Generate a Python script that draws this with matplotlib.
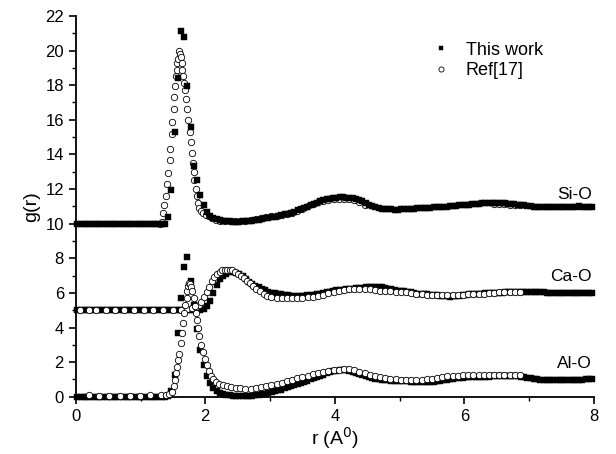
import numpy as np
import matplotlib
matplotlib.use("Agg")
import matplotlib.pyplot as plt
from matplotlib.ticker import MultipleLocator

plt.rcParams['font.family'] = ['Liberation Sans', 'DejaVu Sans']

#### THIS WORK : g(r) on a 0.05 A grid ####
r_work = np.linspace(0.025, 7.975, 160)

sio_work = [0.0] * 28 + [
    0.39, 1.93, 5.29, 8.41, 11.1, 10.8, 7.95, 5.56, 3.32, 2.5,
    1.64, 1.06, 0.69, 0.46, 0.35, 0.28, 0.22, 0.18, 0.15, 0.13,
    0.12, 0.12, 0.12, 0.13, 0.14, 0.15, 0.17, 0.19, 0.22, 0.26,
    0.3, 0.33, 0.36, 0.4, 0.44, 0.48, 0.53, 0.58, 0.63, 0.69,
    0.76, 0.83, 0.91, 0.99, 1.07, 1.15, 1.22, 1.29, 1.35, 1.4,
    1.44, 1.48, 1.5, 1.52, 1.52, 1.51, 1.49, 1.46, 1.42, 1.36,
    1.28, 1.18, 1.08, 1.0, 0.94, 0.9, 0.87, 0.85, 0.83, 0.82,
    0.81, 0.81, 0.82, 0.83, 0.84, 0.85, 0.87, 0.88, 0.9, 0.91,
    0.92, 0.93, 0.95, 0.96, 0.97, 0.98, 0.99, 1.0, 1.02, 1.03,
    1.05, 1.07, 1.08, 1.1, 1.12, 1.14, 1.16, 1.18, 1.19, 1.2,
    1.21, 1.21, 1.2, 1.19, 1.17, 1.15, 1.13, 1.11, 1.09, 1.07,
    1.05, 1.03, 1.01, 0.99, 0.98, 0.98, 0.97, 0.97, 0.96, 0.96,
    0.96, 0.97, 0.97, 0.98, 0.98, 0.99, 0.99, 1.0, 0.99, 0.98,
    0.98, 0.98]

cao_work = [0.0] * 37 + [
    0.01, 0.03, 0.06, 0.25, 0.54, 1.0, 1.45, 1.8, 2.0, 2.12,
    2.18, 2.2, 2.16, 2.08, 1.95, 1.8, 1.65, 1.53, 1.42, 1.32,
    1.23, 1.15, 1.08, 1.02, 0.98, 0.95, 0.92, 0.89, 0.86, 0.84,
    0.83, 0.83, 0.84, 0.85, 0.86, 0.87, 0.89, 0.92, 0.96, 1.0,
    1.04, 1.08, 1.11, 1.14, 1.17, 1.19, 1.21, 1.23, 1.25, 1.27,
    1.29, 1.31, 1.33, 1.35, 1.37, 1.37, 1.35, 1.32, 1.28, 1.24,
    1.2, 1.16, 1.13, 1.11, 1.1, 1.07, 1.03, 0.99, 0.96, 0.94,
    0.93, 0.92, 0.9, 0.88, 0.86, 0.84, 0.82, 0.8, 0.79, 0.8,
    0.82, 0.85, 0.88, 0.9, 0.92, 0.93, 0.94, 0.95, 0.96, 0.97,
    0.98, 0.99, 1.0, 1.01, 1.02, 1.03, 1.04, 1.05, 1.06, 1.07,
    1.08, 1.08, 1.08, 1.07, 1.06, 1.05, 1.04, 1.03, 1.02, 1.01,
    1.0, 1.0, 0.99, 0.99, 0.99, 1.0, 1.0, 1.0, 0.99, 0.99,
    0.98, 0.98, 0.99]

alo_work = [0.0] * 28 + [
    0.05, 0.35, 1.26, 3.7, 5.7, 7.5, 8.1, 6.7, 5.3, 3.9,
    2.7, 1.85, 1.2, 0.77, 0.5, 0.32, 0.2, 0.14, 0.1, 0.08,
    0.06, 0.05, 0.05, 0.05, 0.05, 0.06, 0.07, 0.09, 0.11, 0.14,
    0.18, 0.22, 0.27, 0.32, 0.37, 0.42, 0.48, 0.54, 0.6, 0.66,
    0.72, 0.79, 0.86, 0.93, 1.0, 1.07, 1.14, 1.21, 1.28, 1.35,
    1.42, 1.47, 1.51, 1.53, 1.54, 1.52, 1.48, 1.43, 1.37, 1.31,
    1.25, 1.18, 1.12, 1.07, 1.03, 1.0, 0.98, 0.96, 0.95, 0.94,
    0.93, 0.92, 0.91, 0.9, 0.89, 0.88, 0.87, 0.86, 0.85, 0.84,
    0.84, 0.85, 0.87, 0.9, 0.93, 0.96, 0.99, 1.02, 1.04, 1.06,
    1.08, 1.1, 1.12, 1.13, 1.14, 1.15, 1.16, 1.16, 1.17, 1.17,
    1.18, 1.18, 1.19, 1.19, 1.2, 1.2, 1.2, 1.19, 1.18, 1.16,
    1.14, 1.11, 1.08, 1.05, 1.02, 0.99, 0.97, 0.96, 0.95, 0.95,
    0.95, 0.96, 0.96, 0.97, 0.97, 0.98, 0.98, 0.99, 0.99, 1.0,
    1.0, 1.0]

sio_ref_r = [1.30, 1.33, 1.35, 1.37, 1.39, 1.41, 1.43, 1.45, 1.46, 1.48,
             1.49, 1.51, 1.52, 1.53, 1.55, 1.56, 1.57, 1.58, 1.60, 1.61,
             1.62, 1.635, 1.645, 1.66, 1.67, 1.685, 1.70, 1.72, 1.74, 1.76,
             1.775, 1.79, 1.805, 1.82, 1.83, 1.85, 1.87, 1.89, 1.91, 1.94,
             1.97, 2.01, 2.05, 2.10, 2.16, 2.22, 2.30, 2.38, 2.46, 2.54,
             2.62, 2.70, 2.78, 2.86, 2.94, 3.02, 3.10, 3.18, 3.26, 3.34,
             3.42, 3.50, 3.58, 3.66, 3.74, 3.82, 3.90, 3.98, 4.06, 4.14,
             4.22, 4.30, 4.38, 4.46, 6.46, 6.54, 6.62, 6.70, 6.78, 6.86]
sio_ref_g = [0.0, 0.1, 0.6, 1.1, 1.6, 2.3, 2.9, 3.7, 4.3, 5.2,
             5.9, 6.6, 7.3, 7.95, 8.5, 8.9, 9.3, 9.5, 9.95, 9.8,
             9.6, 9.3, 8.9, 8.5, 8.15, 7.7, 7.2, 6.6, 6.0, 5.3,
             4.7, 4.1, 3.5, 3.0, 2.55, 2.0, 1.6, 1.2, 0.9, 0.75,
             0.62, 0.5, 0.43, 0.32, 0.23, 0.18, 0.15, 0.14, 0.14, 0.15,
             0.18, 0.2, 0.25, 0.3, 0.37, 0.42, 0.47, 0.5, 0.55, 0.6,
             0.72, 0.85, 1.0, 1.15, 1.25, 1.32, 1.38, 1.4, 1.42, 1.42,
             1.4, 1.35, 1.25, 1.1, 1.15, 1.14, 1.12, 1.1, 1.08, 1.07]

cao_ref_r = [0.07, 0.2, 0.32, 0.47, 0.6, 0.75, 0.9, 1.05, 1.2, 1.35,
             1.5, 1.62, 1.72, 1.80, 1.86, 1.90, 1.94, 1.98, 2.02, 2.06,
             2.10, 2.14, 2.18, 2.22, 2.26, 2.30, 2.34, 2.38, 2.42, 2.46,
             2.50, 2.55, 2.60, 2.64, 2.69, 2.74, 2.79, 2.84, 2.90, 2.95,
             3.02, 3.10, 3.18, 3.26, 3.34, 3.42, 3.50, 3.58, 3.66, 3.74,
             3.82, 3.90, 3.98, 4.06, 4.14, 4.22, 4.30, 4.38, 4.46, 4.54,
             4.62, 4.70, 4.78, 4.86, 4.94, 5.02, 5.10, 5.18, 5.26, 5.34,
             5.42, 5.50, 5.58, 5.66, 5.74, 5.82, 5.90, 5.98, 6.06, 6.14,
             6.22, 6.30, 6.38, 6.46, 6.54, 6.62, 6.70, 6.78, 6.86]
cao_ref_g = [0.0, 0.01, 0.0, 0.0, 0.01, 0.0, 0.0, 0.01, 0.0, 0.0,
             0.01, 0.02, 0.05, 0.1, 0.2, 0.33, 0.5, 0.78, 1.08, 1.37,
             1.66, 1.9, 2.1, 2.22, 2.3, 2.34, 2.35, 2.34, 2.3, 2.22,
             2.12, 2.0, 1.85, 1.7, 1.55, 1.4, 1.25, 1.1, 0.95, 0.82,
             0.74, 0.7, 0.68, 0.68, 0.68, 0.7, 0.72, 0.75, 0.78, 0.82,
             0.9, 0.98, 1.06, 1.12, 1.18, 1.22, 1.23, 1.22, 1.22, 1.2,
             1.16, 1.13, 1.11, 1.09, 1.08, 1.06, 1.03, 1.0, 0.96, 0.92,
             0.89, 0.88, 0.88, 0.89, 0.9, 0.9, 0.9, 0.9, 0.91, 0.92,
             0.94, 0.96, 0.98, 1.0, 1.03, 1.05, 1.07, 1.08, 1.08]

alo_ref_r = [0.21, 0.36, 0.52, 0.68, 0.84, 0.99, 1.15, 1.31, 1.40, 1.44,
             1.48, 1.51, 1.53, 1.55, 1.57, 1.585, 1.60, 1.62, 1.64, 1.655,
             1.67, 1.69, 1.71, 1.725, 1.74, 1.755, 1.77, 1.785, 1.80, 1.82,
             1.84, 1.86, 1.875, 1.89, 1.91, 1.94, 1.97, 2.0, 2.03, 2.06,
             2.09, 2.12, 2.16, 2.21, 2.27, 2.33, 2.40, 2.47, 2.54, 2.62,
             2.70, 2.78, 2.86, 2.94, 3.02, 3.10, 3.18, 3.26, 3.34, 3.42,
             3.50, 3.58, 3.66, 3.74, 3.82, 3.90, 3.98, 4.06, 4.14, 4.22,
             4.30, 4.38, 4.46, 4.54, 4.62, 4.70, 4.78, 4.86, 4.94, 5.02,
             5.10, 5.18, 5.26, 5.34, 5.42, 5.50, 5.58, 5.66, 5.74, 5.82,
             5.90, 5.98, 6.06, 6.14, 6.22, 6.30, 6.38, 6.46, 6.54, 6.62,
             6.70, 6.78, 6.86]
alo_ref_g = [0.08, 0.06, 0.07, 0.05, 0.06, 0.05, 0.09, 0.08, 0.08, 0.15,
             0.29, 0.6, 0.97, 1.35, 1.74, 2.1, 2.5, 3.1, 3.67, 4.25,
             4.83, 5.3, 5.7, 6.1, 6.4, 6.55, 6.5, 6.35, 6.1, 5.7,
             5.25, 4.85, 4.44, 4.0, 3.5, 3.0, 2.6, 2.2, 1.85, 1.5,
             1.22, 1.0, 0.85, 0.75, 0.68, 0.62, 0.58, 0.52, 0.48, 0.46,
             0.47, 0.5, 0.55, 0.6, 0.66, 0.73, 0.8, 0.9, 0.98, 1.06,
             1.14, 1.22, 1.3, 1.36, 1.42, 1.47, 1.53, 1.57, 1.58, 1.58,
             1.55, 1.45, 1.35, 1.27, 1.2, 1.13, 1.06, 1.02, 1.0, 0.98,
             0.97, 0.95, 0.96, 0.97, 1.0, 1.05, 1.1, 1.15, 1.18, 1.2,
             1.22, 1.24, 1.25, 1.26, 1.27, 1.27, 1.26, 1.26, 1.27, 1.26,
             1.25, 1.24, 1.23]

pairs = ["Si-O", "Ca-O", "Al-O"]
offsets = [10, 5, 0]
label_y = [11.68, 6.95, 1.93]

work = [sio_work, cao_work, alo_work]
ref_r = [sio_ref_r, cao_ref_r, alo_ref_r]
ref_g = [sio_ref_g, cao_ref_g, alo_ref_g]
# Si-O squares sit over the circles, the other two under
ref_z = [2, 4, 4]

fig = plt.figure(figsize=(6.16, 4.54), dpi=100)
ax = fig.add_axes([0.123, 0.126, 0.841, 0.839])

for i in range(3):
    g = np.array(work[i]) + offsets[i]
    hw, = ax.plot(r_work, g, "s", ms=4.1, color="black", mec="black",
                  mew=0.3, clip_on=False, zorder=3)
    hr, = ax.plot(ref_r[i], np.array(ref_g[i]) + offsets[i], "o", ms=4.6,
                  mfc="white", mec="black", mew=0.6, clip_on=False,
                  zorder=ref_z[i])
    ax.text(7.97, label_y[i], pairs[i], ha="right", va="center", fontsize=12.5)

ax.legend([hw, hr], ["This work", "Ref[17]"], loc="upper left",
          bbox_to_anchor=(0.652, 0.975), frameon=False, fontsize=13,
          handlelength=1.2, handletextpad=0.8, labelspacing=0.2,
          markerscale=0.8)

ax.set_xlim(0, 8)
ax.set_ylim(0, 22)
ax.xaxis.set_major_locator(MultipleLocator(2))
ax.xaxis.set_minor_locator(MultipleLocator(1))
ax.yaxis.set_major_locator(MultipleLocator(2))
ax.yaxis.set_minor_locator(MultipleLocator(1))

ax.spines["top"].set_visible(False)
ax.spines["right"].set_visible(False)
ax.spines["left"].set_linewidth(1.3)
ax.spines["bottom"].set_linewidth(1.3)
ax.tick_params(which="major", direction="out", length=5, width=1.2,
               labelsize=12)
ax.tick_params(which="minor", direction="out", length=3, width=1.0)

ax.set_xlabel("r (A$^0$)", fontsize=14, labelpad=1)
ax.set_ylabel("g(r)", fontsize=14, labelpad=4)

plt.savefig("out.png", dpi=100)
